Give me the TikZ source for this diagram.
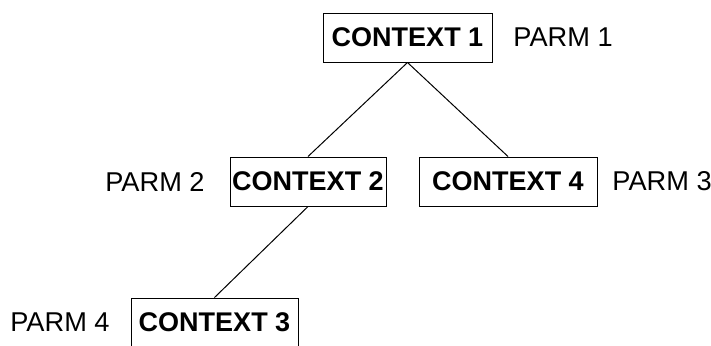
\documentclass[tikz,border=0pt]{standalone}
\usepackage{fontspec}
\setmainfont{Liberation Sans}
\usetikzlibrary{positioning}

\tikzset{
	ctx/.style = {draw, line width=0.5pt, minimum height=24.5pt, inner sep=0pt, font=\fontsize{13.5}{16}\selectfont\bfseries},
	parm/.style = {inner sep=0pt, font=\fontsize{13.6}{16}\selectfont},
	link/.style = {line width=0.5pt}
}

\begin{document}
\begin{tikzpicture}[x=0.5pt, y=-0.5pt]
	\useasboundingbox (0,0) rectangle (711,345);
	
	\node[ctx, minimum width=84.5pt] (ctx1) at (407.5,37.5) {CONTEXT 1};
	\node[ctx, minimum width=78pt] (ctx2) at (308,181.5) {CONTEXT 2};
	\node[ctx, minimum width=89pt] (ctx4) at (508,181.5) {CONTEXT 4};
	\node[ctx, minimum width=83.5pt] (ctx3) at (214.5,322.5) {CONTEXT 3};
	
	\node[parm, anchor=west] (parm1) at (513,37.5) {PARM 1};
	\node[parm, anchor=east] (parm2) at (205,181.5) {PARM 2};
	\node[parm, anchor=west] (parm3) at (612,181.5) {PARM 3};
	\node[parm, anchor=east] (parm4) at (110,322.5) {PARM 4};
	
	\draw[link] (ctx1.south) -- (ctx2.north);
	\draw[link] (ctx1.south) -- (ctx4.north);
	\draw[link] (ctx2.south) -- (ctx3.north);
\end{tikzpicture}
\end{document}
